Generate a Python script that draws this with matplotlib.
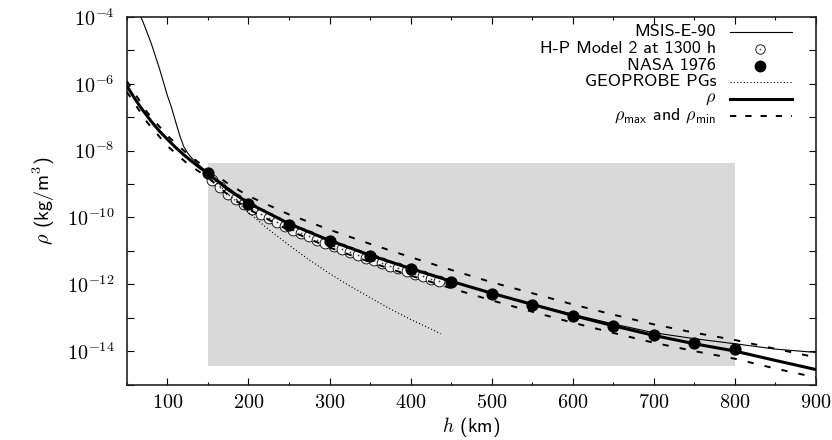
import matplotlib
matplotlib.use("Agg")
import matplotlib.pyplot as plt
from matplotlib.lines import Line2D
from matplotlib.patches import Rectangle

plt.rcParams['mathtext.fontset'] = 'cm'
plt.rcParams['lines.scale_dashes'] = False
SANS = ['cmss10', 'DejaVu Sans']

# Density model rho (thick line)
h_rho = [50, 60, 70, 80, 90, 100, 110, 120, 130, 140, 150, 175, 200, 250, 300, 350,
         400, 450, 500, 550, 600, 650, 700, 750, 800, 850, 900]
rho = [8.7e-7, 3.55e-7, 1.58e-7, 7.6e-8, 3.9e-8, 2.19e-8, 1.26e-8, 7.6e-9, 4.8e-9, 3.1e-9,
       2.09e-9, 6.8e-10, 2.69e-10, 6.5e-11, 2.04e-11, 7.4e-12, 2.95e-12, 1.23e-12, 5.4e-13,
       2.5e-13, 1.17e-13, 5.75e-14, 2.95e-14, 1.66e-14, 1.0e-14, 5.25e-15, 2.8e-15]

# rho_max / rho_min envelope
h_env = [50, 75, 100, 125, 150, 175, 200, 250, 300, 350, 400, 450, 500, 550, 600, 650,
         700, 750, 800, 850, 900]
rho_max = [1.2e-6, 1.41e-7, 2.8e-8, 7.9e-9, 2.75e-9, 1.02e-9, 4.4e-10, 1.23e-10, 4.3e-11,
           1.62e-11, 6.5e-12, 2.7e-12, 1.15e-12, 5.4e-13, 2.5e-13, 1.23e-13, 6.3e-14,
           3.55e-14, 2.15e-14, 1.17e-14, 6.5e-15]
rho_min = [5.75e-7, 7.1e-8, 1.38e-8, 4.0e-9, 1.58e-9, 4.7e-10, 1.78e-10, 4.1e-11, 1.26e-11,
           4.6e-12, 1.82e-12, 7.6e-13, 3.3e-13, 1.51e-13, 7.1e-14, 3.5e-14, 1.78e-14, 1.0e-14,
           5.9e-15, 3.0e-15, 1.62e-15]

# MSIS-E-90
h_msis = [60, 70, 80, 90, 100, 105, 110, 115, 120, 125, 130, 140, 150, 200, 250, 300, 350,
          400, 450, 500, 550, 600, 650, 700, 750, 800, 850, 900]
rho_msis = [2.5e-4, 7.1e-5, 1.66e-5, 3.0e-6, 4.5e-7, 2.0e-7, 7.6e-8, 3.0e-8, 1.35e-8, 8.5e-9,
            6.0e-9, 3.55e-9, 2.2e-9, 2.7e-10, 6.5e-11, 2.04e-11, 7.4e-12, 2.95e-12, 1.23e-12,
            5.5e-13, 2.57e-13, 1.26e-13, 6.5e-14, 3.55e-14, 2.35e-14, 1.66e-14, 1.15e-14, 9.1e-15]

# H-P Model 2 at 1300 h
h_hp = [155, 165, 175, 185, 195, 205, 215, 225, 235, 245, 255, 265, 275, 285, 295, 305, 315,
        325, 335, 345, 355, 365, 375, 385, 395, 405, 415, 425, 435]
rho_hp = [1.29e-9, 7.9e-10, 5.1e-10, 3.47e-10, 2.45e-10, 1.74e-10, 1.29e-10, 9.5e-11, 7.2e-11,
          5.6e-11, 4.35e-11, 3.4e-11, 2.7e-11, 2.14e-11, 1.74e-11, 1.41e-11, 1.15e-11, 9.3e-12,
          7.6e-12, 6.3e-12, 5.25e-12, 4.35e-12, 3.6e-12, 3.0e-12, 2.5e-12, 2.1e-12, 1.78e-12,
          1.48e-12, 1.26e-12]

# NASA 1976
h_nasa = [150, 200, 250, 300, 350, 400, 450, 500, 550, 600, 650, 700, 750, 800]
rho_nasa = [2.076e-9, 2.541e-10, 6.073e-11, 1.916e-11, 7.014e-12, 2.803e-12, 1.184e-12,
            5.215e-13, 2.384e-13, 1.137e-13, 5.712e-14, 3.070e-14, 1.788e-14, 1.136e-14]

# GEOPROBE PGs
h_geo = [150, 175, 200, 225, 250, 275, 300, 325, 350, 375, 400, 425, 437]
rho_geo = [2.0e-9, 5.0e-10, 1.41e-10, 4.35e-11, 1.48e-11, 5.4e-12, 2.1e-12, 8.9e-13, 4.0e-13,
           1.82e-13, 8.9e-14, 4.6e-14, 3.3e-14]

# shaded region
box_h = (150, 800)
box_rho = (3.7e-15, 4.2e-9)

x_ticks = [100, 200, 300, 400, 500, 600, 700, 800, 900]
y_exps = [-14, -12, -10, -8, -6, -4]

fig = plt.figure(figsize=(8.32, 4.4), dpi=100)
ax = fig.add_axes([0.1524, 0.1261, 0.8284, 0.8353])
ax.set_yscale('log')
ax.set_xlim(50, 900)
ax.set_ylim(1e-15, 1e-4)

ax.add_patch(Rectangle((box_h[0], box_rho[0]), box_h[1] - box_h[0], box_rho[1] - box_rho[0],
                       facecolor='#d9d9d9', edgecolor='none', zorder=0))

dash = (0, (4.5, 8))
ax.plot(h_msis, rho_msis, color='black', lw=0.8, zorder=2)
ax.plot(h_hp, rho_hp, ls='none', marker='o', ms=7.8, mfc='#f4f4f4', mec='black', mew=0.6, zorder=3)
ax.plot(h_hp, rho_hp, ls='none', marker='o', ms=1.3, mfc='#444444', mec='none', zorder=3)
ax.plot(h_nasa, rho_nasa, ls='none', marker='o', ms=7.8, color='black', zorder=4)
ax.plot(h_geo, rho_geo, color='black', lw=0.8, ls=(0, (0.8, 1.6)), zorder=4)
ax.plot(h_rho, rho, color='black', lw=2.2, zorder=5)
ax.plot(h_env, rho_max, color='black', lw=1.4, ls=dash, zorder=5)
ax.plot(h_env, rho_min, color='black', lw=1.4, ls=dash, zorder=5)

# ticks
ax.set_xticks(x_ticks)
ax.set_xticklabels([r'$%d$' % v for v in x_ticks])
ax.set_xticks(range(50, 901, 50), minor=True)
ax.set_yticks([10.0 ** e for e in y_exps])
ax.set_yticklabels([r'$10^{%d}$' % e for e in y_exps])
ax.set_yticks([10.0 ** e for e in range(-15, -3)], minor=True)
ax.yaxis.set_minor_formatter(plt.NullFormatter())
ax.tick_params(which='both', direction='in', top=True, right=True, labelsize=14.5)
ax.tick_params(axis='y', which='both', length=5, width=0.8, pad=9)
ax.tick_params(axis='x', which='major', length=5, width=0.8, pad=6)
ax.tick_params(axis='x', which='minor', length=2.5, width=0.8)
for s in ax.spines.values():
    s.set_linewidth(1.2)
    s.set_color('#222222')

ax.set_xlabel(r'$h$ (km)', fontsize=14, family=SANS, labelpad=2)
ax.set_ylabel(r'$\rho$ (kg/m$^3$)', fontsize=14.5, family=SANS, labelpad=7)

# legend drawn by hand: text right-aligned, sample on the right
def ax_xy(px, py):
    return (px - 126.8) / 689.2, (384.5 - py) / 367.5

labels = ['MSIS-E-90', 'H-P Model 2 at 1300 h', 'NASA 1976', 'GEOPROBE PGs', r'$\rho$',
          r'$\rho_{\mathsf{max}}$ and $\rho_{\mathsf{min}}$']
rows = [32, 49, 66, 82, 99, 116]
for i, (lab, py) in enumerate(zip(labels, rows)):
    tx, ty = ax_xy(716, py)
    ax.text(tx, ty, lab, transform=ax.transAxes, ha='right', va='center', fontsize=13, family=SANS)
    x0, _ = ax_xy(730, py)
    x1, _ = ax_xy(792, py)
    xm, _ = ax_xy(760, py)
    if i == 0:
        ax.add_line(Line2D([x0, x1], [ty, ty], transform=ax.transAxes, color='black', lw=0.8))
    elif i == 1:
        ax.add_line(Line2D([xm], [ty], transform=ax.transAxes, ls='none', marker='o', ms=6.8,
                           mfc='white', mec='black', mew=0.6))
        ax.add_line(Line2D([xm], [ty], transform=ax.transAxes, ls='none', marker='o', ms=1.2,
                           mfc='#444444', mec='none'))
    elif i == 2:
        ax.add_line(Line2D([xm], [ty], transform=ax.transAxes, ls='none', marker='o', ms=7.5,
                           color='black'))
    elif i == 3:
        ax.add_line(Line2D([x0, x1], [ty, ty], transform=ax.transAxes, color='black', lw=0.8,
                           ls=(0, (0.8, 1.6))))
    elif i == 4:
        ax.add_line(Line2D([x0, x1], [ty, ty], transform=ax.transAxes, color='black', lw=2.2))
    else:
        ax.add_line(Line2D([x0, x1], [ty, ty], transform=ax.transAxes, color='black', lw=1.4,
                           ls=(0, (4.5, 6.5))))

fig.savefig('out.png', dpi=100)
